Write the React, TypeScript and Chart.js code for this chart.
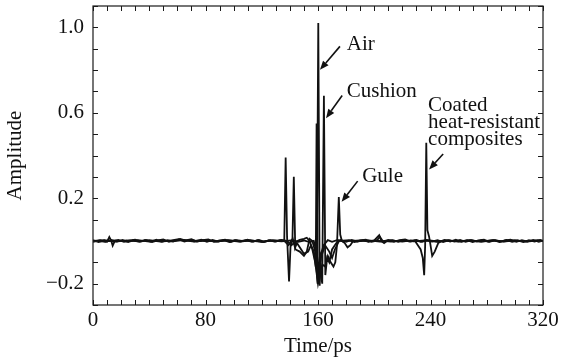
import React, { useEffect, useRef } from "react";
import { Chart, registerables } from "chart.js";

Chart.register(...registerables);

// ---- Data (Time in ps, Amplitude) ----
const airTime = [0, 4, 8, 10, 11.6, 13, 14, 15.5, 18, 22, 26, 30, 34, 38, 42, 46, 50, 54, 58, 62, 66, 70, 74, 78, 82, 86, 90, 94, 98, 102, 106, 110, 114, 118, 122, 126, 130, 134, 138, 142, 146, 150, 154, 157, 159.2, 160.2, 161.2, 162.2, 164, 167, 170, 174, 178, 182, 186, 190, 194, 198, 202, 206, 210, 214, 218, 222, 226, 230, 234, 238, 242, 246, 250, 254, 258, 262, 266, 270, 274, 278, 282, 286, 290, 294, 298, 302, 306, 310, 314, 318, 320];
const airAmp = [0.003, -0.005, 0.002, -0.003, 0.018, 0.0, -0.022, 0.0, 0.005, -0.004, 0.002, 0.006, -0.003, 0.004, -0.005, 0.002, 0.007, -0.004, 0.005, 0.009, 0.002, 0.008, -0.003, 0.004, 0.007, -0.004, 0.002, 0.006, -0.005, 0.004, 0.0, 0.006, -0.003, 0.005, -0.004, 0.004, -0.003, 0.005, 0.0, 0.004, -0.004, 0.002, -0.005, 0.0, -0.06, 1.02, -0.21, -0.06, -0.02, 0.004, -0.004, 0.005, -0.003, 0.004, -0.005, 0.002, 0.006, -0.004, 0.002, -0.003, 0.005, -0.004, 0.004, 0.007, -0.003, 0.005, -0.004, 0.004, 0.0, -0.005, 0.005, -0.003, 0.006, -0.004, 0.004, -0.005, 0.002, 0.006, -0.004, 0.004, -0.003, 0.005, -0.004, 0.002, -0.005, 0.004, -0.003, 0.005, 0.0];

const cushionTime = [0, 5, 9, 13, 17, 21, 25, 29, 33, 37, 41, 45, 49, 53, 57, 61, 65, 69, 73, 77, 81, 85, 89, 93, 97, 101, 105, 109, 113, 117, 121, 125, 129, 133, 136, 137, 138, 139.4, 140.5, 141.8, 142.8, 143.8, 145, 147, 150, 153, 155, 157, 158.4, 159, 159.8, 161, 163, 164.2, 165.2, 166.5, 168, 170, 173, 176, 180, 184, 188, 192, 196, 200, 203.5, 205, 207, 209, 213, 217, 221, 225, 229, 233, 237, 241, 245, 249, 253, 257, 261, 265, 269, 273, 277, 281, 285, 289, 293, 297, 301, 305, 309, 313, 317, 320];
const cushionAmp = [-0.005, 0.004, -0.004, 0.005, -0.003, 0.005, -0.005, 0.004, -0.004, 0.005, -0.003, 0.006, -0.004, 0.004, -0.003, 0.007, -0.003, 0.005, 0.0, 0.006, -0.004, 0.005, -0.003, 0.004, -0.005, 0.005, -0.003, 0.004, -0.004, 0.003, -0.005, 0.004, -0.003, 0.003, 0.0, 0.39, 0.02, -0.19, -0.02, 0.0, 0.3, -0.03, -0.01, -0.03, -0.06, -0.05, -0.02, -0.05, -0.12, 0.55, -0.2, -0.1, -0.2, 0.68, -0.16, -0.08, -0.1, -0.04, -0.01, 0.004, -0.004, 0.005, -0.003, 0.004, -0.004, 0.003, 0.027, 0.0, -0.01, 0.0, 0.004, -0.004, 0.005, -0.003, 0.004, -0.004, 0.005, -0.003, 0.004, -0.005, 0.004, -0.003, 0.005, -0.004, 0.004, -0.003, 0.005, -0.004, 0.004, -0.005, 0.003, 0.006, -0.004, 0.004, -0.003, 0.005, -0.004, 0.002];

const guleTime = [0, 8, 16, 24, 32, 40, 48, 56, 64, 72, 80, 88, 96, 104, 112, 120, 128, 134, 138, 141, 144, 147, 150, 152, 154, 156, 158, 160, 161.5, 163, 165, 167, 169, 171, 172.3, 173.5, 174.8, 175.8, 177, 179, 181, 183, 185, 190, 196, 202, 204, 206, 212, 220, 228, 236, 244, 252, 260, 268, 276, 284, 292, 300, 308, 316, 320];
const guleAmp = [0.0, 0.004, -0.003, 0.003, -0.002, 0.004, -0.003, 0.002, 0.005, -0.002, 0.003, -0.003, 0.004, -0.002, 0.003, -0.003, 0.002, -0.002, 0.0, -0.02, -0.005, 0.005, 0.01, 0.015, 0.0, -0.04, -0.1, -0.2, -0.15, -0.11, -0.12, -0.07, -0.1, -0.12, -0.1, -0.02, 0.205, 0.03, 0.0, -0.01, -0.03, -0.02, 0.0, 0.003, -0.002, 0.004, 0.02, 0.0, -0.003, 0.003, -0.002, 0.002, -0.003, 0.003, -0.002, 0.004, -0.003, 0.002, -0.003, 0.003, -0.002, 0.003, 0.0];

const coatedTime = [0, 8, 16, 24, 32, 40, 48, 56, 64, 72, 80, 88, 96, 104, 112, 120, 128, 136, 139, 142, 144, 147, 150, 152, 154, 156, 158, 159.8, 162, 165, 168, 170, 172, 175, 180, 188, 196, 204, 212, 220, 226, 229, 231, 233, 234.5, 235.5, 236.2, 237, 237.8, 239, 240, 241.2, 243, 245.5, 248, 252, 260, 268, 276, 284, 292, 300, 308, 316, 320];
const coatedAmp = [0.001, -0.003, 0.003, -0.002, 0.004, -0.003, 0.003, -0.002, 0.004, -0.003, 0.002, -0.002, 0.003, -0.003, 0.002, -0.004, 0.003, 0.0, -0.02, 0.01, -0.04, -0.05, -0.07, -0.05, 0.01, 0.0, -0.05, -0.2, -0.08, -0.02, -0.05, -0.08, -0.04, 0.0, 0.003, -0.002, 0.003, -0.003, 0.002, -0.003, 0.003, 0.0, -0.02, -0.04, -0.08, -0.16, -0.02, 0.46, 0.05, 0.02, -0.02, -0.07, -0.05, -0.01, 0.0, 0.003, -0.003, 0.002, -0.003, 0.004, -0.002, 0.003, -0.003, 0.002, 0.0];

const xTickLabels = ["0", "80", "160", "240", "320"];
const yTickValues = [-0.2, 0.2, 0.6, 1.0];
const yTickLabels = ["\u22120.2", "0.2", "0.6", "1.0"];

const FONT = "'Liberation Serif', 'Times New Roman', serif";
const FS = 21;

type Note = { lines: string[]; tx: number; ty: number; lineGap: number; ax0: number; ay0: number; ax1: number; ay1: number };
const notes: Note[] = [
  { lines: ["Air"], tx: 180.5, ty: 0.895, lineGap: 0, ax0: 175.6, ay0: 0.911, ax1: 161.4, ay1: 0.801 },
  { lines: ["Cushion"], tx: 180.5, ty: 0.673, lineGap: 0, ax0: 177.2, ay0: 0.681, ax1: 165.7, ay1: 0.575 },
  { lines: ["Gule"], tx: 191.4, ty: 0.277, lineGap: 0, ax0: 188.2, ay0: 0.28, ax1: 176.8, ay1: 0.183 },
  { lines: ["Coated", "heat-resistant", "composites"], tx: 238.3, ty: 0.61, lineGap: 17.2, ax0: 249, ay0: 0.407, ax1: 239, ay1: 0.335 },
];

const toPoints = (t: number[], a: number[]) => t.map((x, i) => ({ x, y: a[i] }));

const framePlugin = {
  id: "frameTicks",
  afterDatasetsDraw(chart: any) {
    const { ctx, chartArea: ca, scales } = chart;
    const xs = scales.x;
    const ys = scales.y;
    ctx.save();
    ctx.strokeStyle = "#1a1a1a";
    ctx.lineWidth = 1.2;
    ctx.strokeRect(ca.left, ca.top, ca.right - ca.left, ca.bottom - ca.top);
    const len = 5;
    ctx.beginPath();
    for (let v = 0; v <= 320; v += 10) {
      const px = Math.round(xs.getPixelForValue(v)) + 0.5;
      ctx.moveTo(px, ca.bottom);
      ctx.lineTo(px, ca.bottom - len);
      ctx.moveTo(px, ca.top);
      ctx.lineTo(px, ca.top + len);
    }
    for (let i = -3; i <= 11; i++) {
      const py = Math.round(ys.getPixelForValue(i / 10)) + 0.5;
      ctx.moveTo(ca.left, py);
      ctx.lineTo(ca.left + len, py);
      ctx.moveTo(ca.right, py);
      ctx.lineTo(ca.right - len, py);
    }
    ctx.lineWidth = 1;
    ctx.stroke();

    // annotations
    ctx.fillStyle = "#111";
    ctx.strokeStyle = "#111";
    ctx.font = `${FS}px ${FONT}`;
    ctx.textAlign = "left";
    ctx.textBaseline = "alphabetic";
    for (const n of notes) {
      const x = xs.getPixelForValue(n.tx);
      const y = ys.getPixelForValue(n.ty);
      n.lines.forEach((line, i) => ctx.fillText(line, x, y + i * n.lineGap));
      const x0 = xs.getPixelForValue(n.ax0);
      const y0 = ys.getPixelForValue(n.ay0);
      const x1 = xs.getPixelForValue(n.ax1);
      const y1 = ys.getPixelForValue(n.ay1);
      const ang = Math.atan2(y1 - y0, x1 - x0);
      const hl = 9;
      const hw = 3.6;
      const bx = x1 - hl * Math.cos(ang);
      const by = y1 - hl * Math.sin(ang);
      ctx.lineWidth = 1.6;
      ctx.beginPath();
      ctx.moveTo(x0, y0);
      ctx.lineTo(bx, by);
      ctx.stroke();
      ctx.beginPath();
      ctx.moveTo(x1, y1);
      ctx.lineTo(bx + hw * Math.sin(ang), by - hw * Math.cos(ang));
      ctx.lineTo(bx - hw * Math.sin(ang), by + hw * Math.cos(ang));
      ctx.closePath();
      ctx.fill();
    }
    ctx.restore();
  },
};

export default function App() {
  const ref = useRef<HTMLCanvasElement | null>(null);
  useEffect(() => {
    document.body.style.margin = "0";
    const canvas = ref.current;
    if (!canvas) return;
    const lineStyle = { borderColor: "#111", borderWidth: 1.8, pointRadius: 0, fill: false, tension: 0 };
    const chart = new Chart(canvas, {
      type: "line",
      data: {
        datasets: [
          { label: "Air", data: toPoints(airTime, airAmp), ...lineStyle },
          { label: "Cushion", data: toPoints(cushionTime, cushionAmp), ...lineStyle },
          { label: "Gule", data: toPoints(guleTime, guleAmp), ...lineStyle },
          { label: "Coated heat-resistant composites", data: toPoints(coatedTime, coatedAmp), ...lineStyle },
        ],
      },
      options: {
        animation: false,
        responsive: false,
        devicePixelRatio: 1,
        layout: { padding: { left: 0, right: 20, top: 6, bottom: 0 } },
        plugins: { legend: { display: false }, tooltip: { enabled: false } },
        scales: {
          x: {
            type: "linear",
            min: 0,
            max: 320,
            grid: { display: false, drawTicks: false },
            border: { display: false },
            afterBuildTicks: (s: any) => {
              s.ticks = xTickLabels.map((l) => ({ value: Number(l) }));
            },
            afterFit: (s: any) => {
              s.height = 59;
              s.paddingLeft = 0;
              s.paddingRight = 0;
            },
            ticks: {
              color: "#111",
              font: { family: FONT, size: FS },
              padding: 3,
              maxRotation: 0,
              autoSkip: false,
              callback: (v: any) => {
                const i = xTickLabels.indexOf(String(v));
                return i >= 0 ? xTickLabels[i] : "";
              },
            },
            title: {
              display: true,
              text: "Time/ps",
              color: "#111",
              font: { family: FONT, size: FS },
              padding: { top: 0, bottom: 5 },
            },
          },
          y: {
            type: "linear",
            min: -0.3,
            max: 1.1,
            grid: { display: false, drawTicks: false },
            border: { display: false },
            afterBuildTicks: (s: any) => {
              s.ticks = yTickValues.map((v) => ({ value: v }));
            },
            afterFit: (s: any) => {
              s.width = 93;
              s.paddingTop = 0;
              s.paddingBottom = 0;
            },
            ticks: {
              color: "#111",
              font: { family: FONT, size: FS },
              padding: 9,
              autoSkip: false,
              callback: (v: any) => {
                const i = yTickValues.findIndex((t) => Math.abs(t - Number(v)) < 1e-6);
                return i >= 0 ? yTickLabels[i] : "";
              },
            },
            title: {
              display: true,
              text: "Amplitude",
              color: "#111",
              font: { family: FONT, size: FS },
              padding: { top: 3, bottom: 0 },
            },
          },
        },
      },
      plugins: [framePlugin],
    } as any);
    return () => chart.destroy();
  }, []);
  return (
    <div style={{ width: 563, height: 364, background: "#fff" }}>
      <canvas ref={ref} width={563} height={364} style={{ display: "block" }} />
    </div>
  );
}
